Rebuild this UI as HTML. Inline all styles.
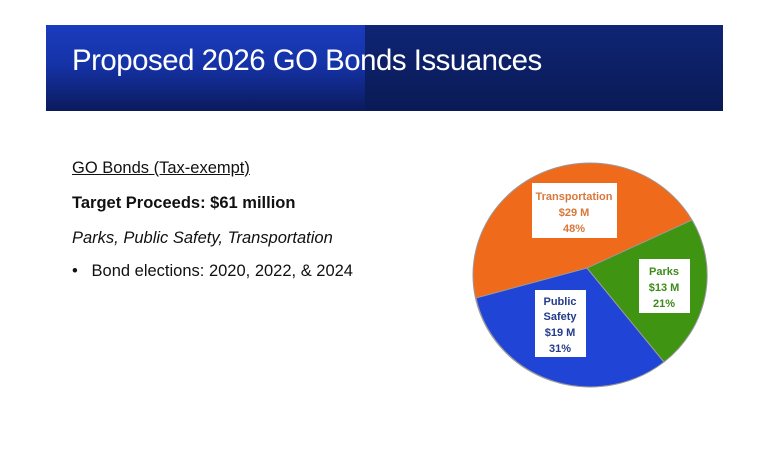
<!DOCTYPE html>
<html><head><meta charset="utf-8"><style>
body{margin:0;width:768px;height:452px;background:#fff;position:relative;overflow:hidden;font-family:"Liberation Sans",sans-serif}
.hdr{position:absolute;left:46px;top:25px;width:677px;height:86px;background:linear-gradient(180deg,#1a3bbd 0%,#1533a8 45%,#0b1a5c 100%)}
.hdr2{position:absolute;left:365px;top:25px;width:358px;height:86px;background:linear-gradient(180deg,#0f2575 0%,#0a1a55 100%)}
.title{position:absolute;left:72px;top:44px;font-size:30px;color:#fff;letter-spacing:-0.5px;transform:scaleX(0.98);transform-origin:left}
.t{position:absolute;left:72px;font-size:16.5px;color:#111}
</style></head><body>
<div class="hdr"></div><div class="hdr2"></div>
<div class="title">Proposed 2026 GO Bonds Issuances</div>
<div class="t" style="top:159px;text-decoration:underline">GO Bonds (Tax-exempt)</div>
<div class="t" style="top:194px;font-weight:bold">Target Proceeds: $61 million</div>
<div class="t" style="top:229px;font-style:italic">Parks, Public Safety, Transportation</div>
<div class="t" style="top:262px">•&nbsp;&nbsp;&nbsp;Bond elections: 2020, 2022, &amp; 2024</div>
<svg width="768" height="452" style="position:absolute;left:0;top:0">
<ellipse cx="590" cy="275" rx="117" ry="112" fill="#f06a1c" stroke="#999" stroke-width="1"/>
<path d="M587,268 L476,298 A117,112 0 0 0 664,362 Z" fill="#1f44d6" stroke="#999" stroke-width="1"/>
<path d="M587,268 L664,362 A117,112 0 0 0 692,220 Z" fill="#3f9412" stroke="#999" stroke-width="1"/>
<rect x="532" y="183" width="85" height="55" fill="#fff"/>
<rect x="639" y="259" width="51" height="54" fill="#fff"/>
<rect x="535" y="290" width="51" height="67" fill="#fff"/>
<g font-family="Liberation Sans,sans-serif" font-size="11" font-weight="bold" text-anchor="middle">
<text x="574" y="200" fill="#d9773a">Transportation</text>
<text x="574" y="216" fill="#d9773a">$29 M</text>
<text x="574" y="232" fill="#d9773a">48%</text>
<text x="664" y="275" fill="#3e8a1b">Parks</text>
<text x="664" y="291" fill="#3e8a1b">$13 M</text>
<text x="664" y="307" fill="#3e8a1b">21%</text>
<text x="560" y="305" fill="#243b8a">Public</text>
<text x="560" y="320" fill="#243b8a">Safety</text>
<text x="560" y="336" fill="#243b8a">$19 M</text>
<text x="560" y="352" fill="#243b8a">31%</text>
</g></svg>
</body></html>
